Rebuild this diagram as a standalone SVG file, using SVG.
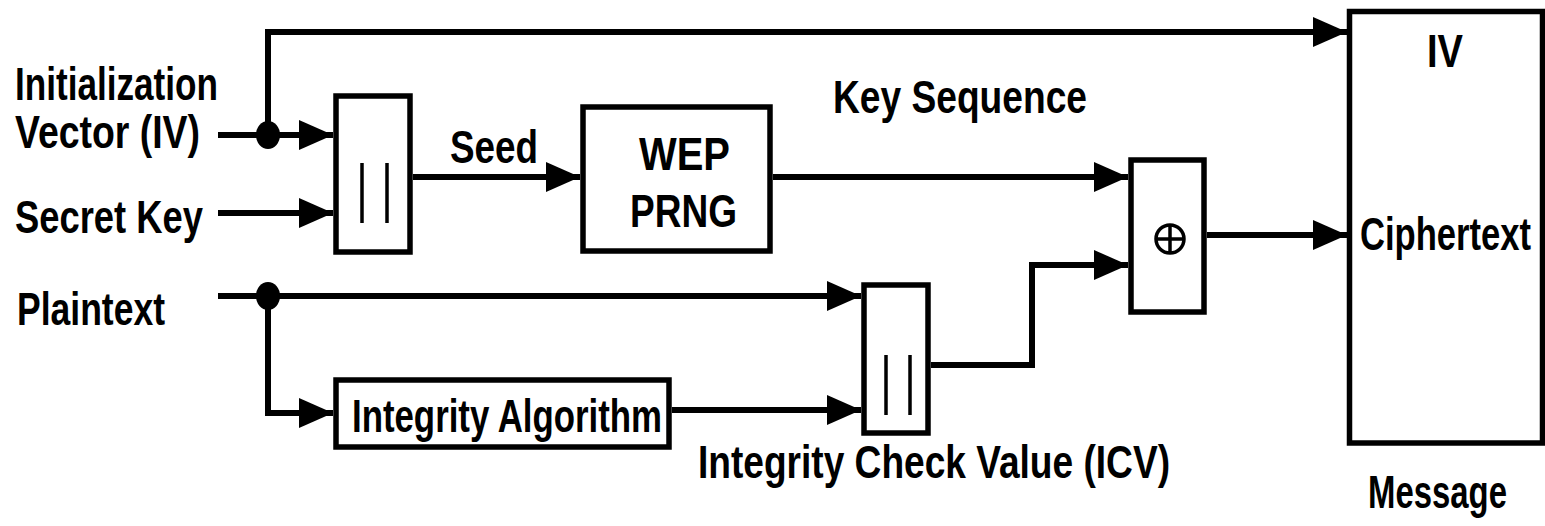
<svg xmlns="http://www.w3.org/2000/svg" width="1545" height="526" viewBox="0 0 1545 526">
  <style>
    .box { fill: #fff; stroke: #000; stroke-width: 5.5; }
    .bar { stroke: #000; stroke-width: 3.5; }
    .wire { fill: none; stroke: #000; stroke-width: 6; }
    .lbl { font-family: "Liberation Sans", Arial, sans-serif; font-weight: bold; font-size: 46px; fill: #000; }
    .dot { fill: #000; }
  </style>
  <defs>
    <marker id="arrow" markerUnits="userSpaceOnUse" markerWidth="36" markerHeight="32" refX="34" refY="15" orient="auto">
      <path d="M0,0 L34,15 L0,30 Z" fill="#000"/>
    </marker>
  </defs>

  <rect width="1545" height="526" fill="#fff"/>

  <!-- connectors -->
  <g id="connectors">
    <path class="wire" d="M218,135 H333" marker-end="url(#arrow)"/>
    <path class="wire" d="M268,135 V32 H1347" marker-end="url(#arrow)"/>
    <path class="wire" d="M218,213 H333" marker-end="url(#arrow)"/>
    <path class="wire" d="M413,177 H580" marker-end="url(#arrow)"/>
    <path class="wire" d="M773,177 H1128" marker-end="url(#arrow)"/>
    <path class="wire" d="M218,296 H861" marker-end="url(#arrow)"/>
    <path class="wire" d="M268,296 V413 H333" marker-end="url(#arrow)"/>
    <path class="wire" d="M672,410 H861" marker-end="url(#arrow)"/>
    <path class="wire" d="M931,365 H1032 V265 H1128" marker-end="url(#arrow)"/>
    <path class="wire" d="M1207,235 H1347" marker-end="url(#arrow)"/>
    <ellipse class="dot" cx="268" cy="135" rx="12" ry="14"/>
    <ellipse class="dot" cx="268" cy="296" rx="12" ry="14"/>
  </g>

  <!-- input labels -->
  <g id="inputs">
    <text class="lbl" x="15" y="100" textLength="203" lengthAdjust="spacingAndGlyphs">Initialization</text>
    <text class="lbl" x="15" y="148" textLength="185" lengthAdjust="spacingAndGlyphs">Vector (IV)</text>
    <text class="lbl" x="15" y="233" textLength="188" lengthAdjust="spacingAndGlyphs">Secret Key</text>
    <text class="lbl" x="17" y="325" textLength="148" lengthAdjust="spacingAndGlyphs">Plaintext</text>
  </g>

  <!-- concatenation of IV and secret key -->
  <g id="concat-seed">
    <rect class="box" x="336" y="96" width="74" height="156"/>
    <line class="bar" x1="362" y1="163" x2="362" y2="223"/>
    <line class="bar" x1="387" y1="163" x2="387" y2="223"/>
  </g>

  <text class="lbl" x="450" y="163" textLength="88" lengthAdjust="spacingAndGlyphs">Seed</text>

  <!-- keystream generator -->
  <g id="wep-prng">
    <rect class="box" x="583" y="107" width="187" height="144"/>
    <text class="lbl" x="639" y="170" textLength="91" lengthAdjust="spacingAndGlyphs">WEP</text>
    <text class="lbl" x="630" y="227" textLength="107" lengthAdjust="spacingAndGlyphs">PRNG</text>
  </g>

  <text class="lbl" x="833" y="113" textLength="254" lengthAdjust="spacingAndGlyphs">Key Sequence</text>

  <!-- integrity algorithm -->
  <g id="integrity">
    <rect class="box" x="336" y="380" width="333" height="67"/>
    <text class="lbl" x="352" y="432" textLength="310" lengthAdjust="spacingAndGlyphs">Integrity Algorithm</text>
  </g>

  <!-- concatenation of plaintext and ICV -->
  <g id="concat-icv">
    <rect class="box" x="864" y="285" width="64" height="148"/>
    <line class="bar" x1="886" y1="355" x2="886" y2="415"/>
    <line class="bar" x1="910" y1="355" x2="910" y2="415"/>
  </g>

  <text class="lbl" x="698" y="478" textLength="472" lengthAdjust="spacingAndGlyphs">Integrity Check Value (ICV)</text>

  <!-- XOR -->
  <g id="xor">
    <rect class="box" x="1131" y="160" width="73" height="152"/>
    <circle cx="1170" cy="239" r="14" fill="none" stroke="#000" stroke-width="3.5"/>
    <line class="bar" x1="1156" y1="239" x2="1184" y2="239"/>
    <line class="bar" x1="1170" y1="225" x2="1170" y2="253"/>
  </g>

  <!-- output message -->
  <g id="message">
    <rect class="box" x="1349.5" y="11.5" width="193" height="431.5"/>
    <text class="lbl" x="1427" y="67" textLength="36" lengthAdjust="spacingAndGlyphs">IV</text>
    <text class="lbl" x="1360" y="250" font-size="44" textLength="171" lengthAdjust="spacingAndGlyphs">Ciphertext</text>
    <text class="lbl" x="1368" y="508" font-size="42" textLength="139" lengthAdjust="spacingAndGlyphs">Message</text>
  </g>
</svg>
